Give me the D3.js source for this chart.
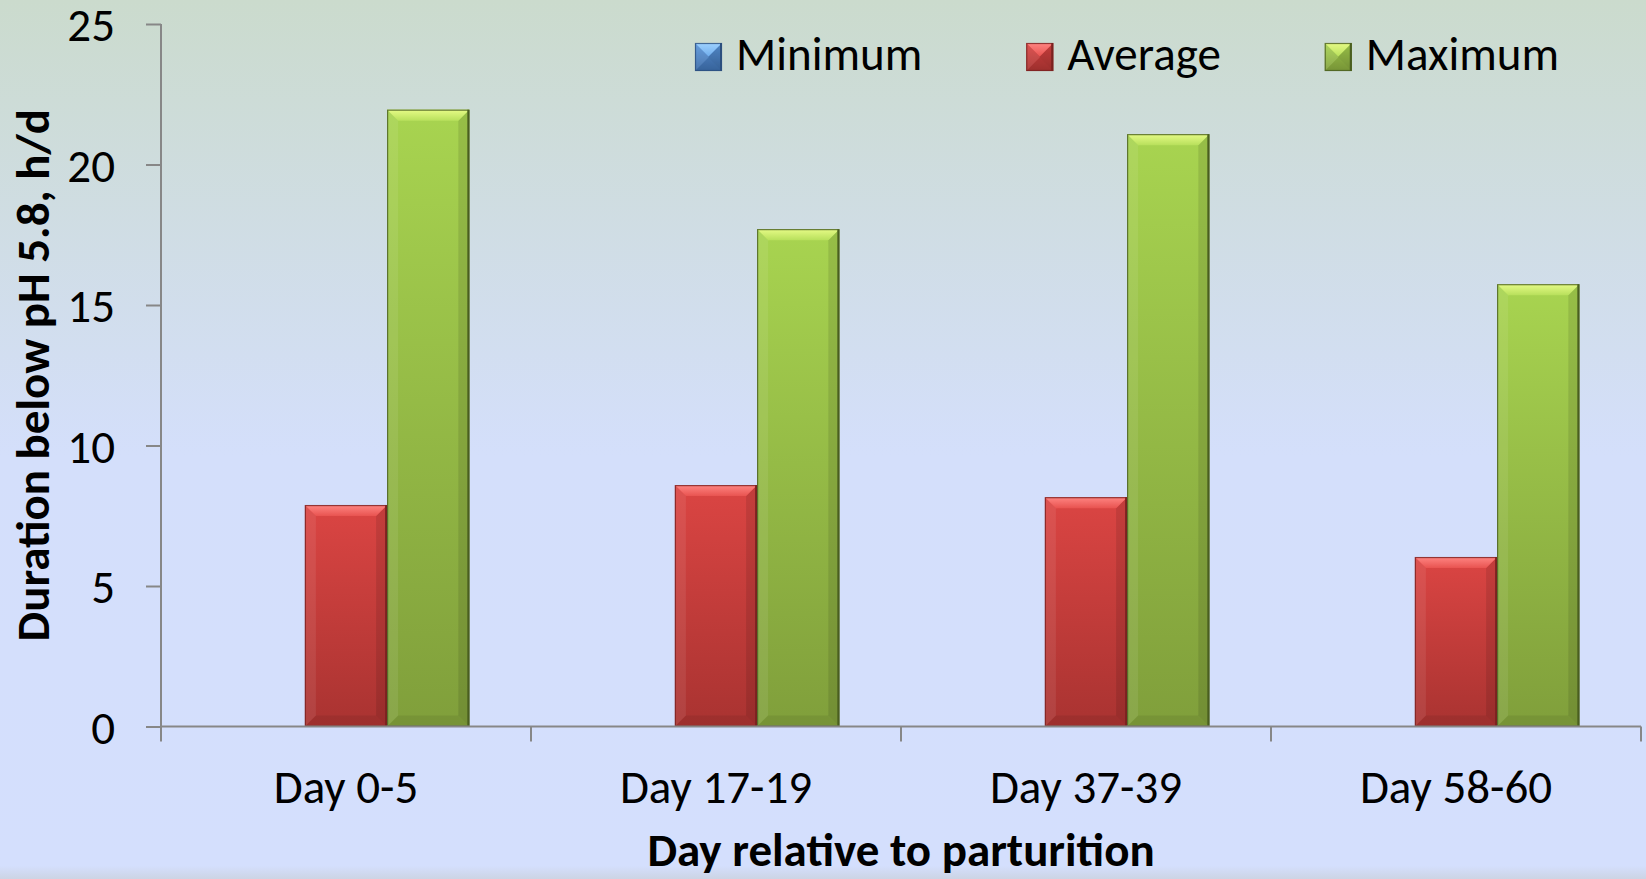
<!DOCTYPE html>
<html>
<head>
<meta charset="utf-8">
<script src="https://cdn.jsdelivr.net/npm/d3@7"></script>
<style>
  html, body { margin: 0; padding: 0; }
  body { width: 1646px; height: 879px; overflow: hidden; }
  svg { display: block; font-family: Carlito, Calibri, Lato, sans-serif; }
</style>
</head>
<body>
<svg id="chart" width="1646" height="879"></svg>
<script>
// Data
const categories = ["Day 0-5", "Day 17-19", "Day 37-39", "Day 58-60"],
  seriesNames = ["Minimum", "Average", "Maximum"],
  minimum = [0, 0, 0, 0],
  average = [7.88, 8.59, 8.16, 6.03],
  maximum = [21.95, 17.7, 21.08, 15.74],
  yTicks = [0, 5, 10, 15, 20, 25],
  yTitle = "Duration below pH 5.8, h/d",
  xTitle = "Day relative to parturition";

const seriesValues = [minimum, average, maximum];

// colours per series: [top, bottom, bevel top, bevel inner, edge]
const palette = {
  Minimum: ["#5b97dc", "#3b6aa6", "#9fd2ff", "#70adec", "#2c4f7e"],
  Average: ["#db4543", "#a93331", "#ff8582", "#e85350", "#7a2220"],
  Maximum: ["#a8d450", "#809f3b", "#e6fb86", "#b8e05c", "#4a5e20"]
};

const W = 1646, H = 879,
  plotL = 161, plotR = 1641, plotT = 24, plotB = 726.5,
  svg = d3.select("#chart"),
  defs = svg.append("defs");

// background
const bg = defs.append("linearGradient").attr("id", "bg")
  .attr("x1", 0).attr("y1", 0).attr("x2", 0).attr("y2", 1);
[[0, "#cbdbcd"], [0.52, "#d4dffb"], [0.985, "#d4dffd"], [1, "#ccd4e4"]]
  .forEach(s => bg.append("stop").attr("offset", s[0]).attr("stop-color", s[1]));
svg.append("rect").attr("width", W).attr("height", H).attr("fill", "url(#bg)");

seriesNames.forEach(name => {
  const g = defs.append("linearGradient").attr("id", "g-" + name)
    .attr("x1", 0).attr("y1", 0).attr("x2", 0).attr("y2", 1);
  g.append("stop").attr("offset", 0).attr("stop-color", palette[name][0]);
  g.append("stop").attr("offset", 1).attr("stop-color", palette[name][1]);
  const b = defs.append("linearGradient").attr("id", "b-" + name)
    .attr("x1", 0).attr("y1", 0).attr("x2", 0).attr("y2", 1);
  b.append("stop").attr("offset", 0).attr("stop-color", palette[name][2]);
  b.append("stop").attr("offset", 1).attr("stop-color", palette[name][3]);
});

// Scales
const x0 = d3.scaleBand().domain(categories).range([plotL, plotR]),
  x1 = d3.scaleBand().domain(seriesNames).range([0, x0.bandwidth()])
    .paddingInner(0).paddingOuter(0.75),
  y = d3.scaleLinear().domain([0, 25]).range([plotB, plotT]);

// bevelled column, Excel style
function bevelBar(sel, name, x, yTop, w, h, bv) {
  if (h <= 0) return;
  const b = Math.min(bv, w / 2, h / 2),
    g = sel.append("g");
  g.append("rect").attr("x", x).attr("y", yTop).attr("width", w).attr("height", h)
    .attr("fill", `url(#g-${name})`);
  // left side, lighter
  g.append("polygon").attr("points",
    [[x, yTop], [x + b, yTop + b], [x + b, yTop + h - b], [x, yTop + h]].join(" "))
    .attr("fill", "#fff").attr("opacity", 0.08);
  // right side, darker
  g.append("polygon").attr("points",
    [[x + w, yTop], [x + w - b, yTop + b], [x + w - b, yTop + h - b], [x + w, yTop + h]].join(" "))
    .attr("fill", "#000").attr("opacity", 0.1);
  // bottom, darker
  g.append("polygon").attr("points",
    [[x, yTop + h], [x + b, yTop + h - b], [x + w - b, yTop + h - b], [x + w, yTop + h]].join(" "))
    .attr("fill", "#000").attr("opacity", 0.07);
  // top bevel
  g.append("polygon").attr("points",
    [[x, yTop], [x + w, yTop], [x + w - b, yTop + b], [x + b, yTop + b]].join(" "))
    .attr("fill", `url(#b-${name})`);
  g.append("rect").attr("x", x + 0.5).attr("y", yTop + 0.5).attr("width", w - 1).attr("height", h - 1)
    .attr("fill", "none").attr("stroke", palette[name][4]).attr("stroke-width", 1.2)
    .attr("stroke-opacity", 0.8);
  g.append("line").attr("x1", x + w - 1).attr("x2", x + w - 1).attr("y1", yTop).attr("y2", yTop + h)
    .attr("stroke", palette[name][4]).attr("stroke-width", 2);
}

// Bars
const groups = svg.append("g").selectAll("g").data(categories).join("g")
  .attr("transform", d => `translate(${x0(d)},0)`);
groups.each(function (cat, ci) {
  const g = d3.select(this);
  seriesNames.forEach((name, si) => {
    const v = seriesValues[si][ci];
    bevelBar(g, name, x1(name), y(v), x1.bandwidth(), y(0) - y(v), 11);
  });
});

// Axes
const axisColor = "#878787";
const yAxis = svg.append("g").attr("transform", `translate(${plotL},0)`)
  .call(d3.axisLeft(y).tickValues(yTicks).tickSize(15).tickPadding(31).tickFormat(d3.format("d")));
yAxis.select(".domain").attr("d", `M0,${plotT}V${plotB}`);

const xAxis = svg.append("g").attr("transform", `translate(0,${plotB})`)
  .call(d3.axisBottom(x0).tickSize(0).tickPadding(47));
xAxis.select(".domain").attr("d", `M${plotL},0H${plotR}`);
// category separators
xAxis.selectAll(".sep").data(categories.map(c => x0(c)).concat([plotR])).join("line")
  .attr("class", "sep").attr("x1", d => d).attr("x2", d => d).attr("y1", 0).attr("y2", 15);

svg.selectAll(".domain, .tick line, .sep").attr("stroke", axisColor).attr("stroke-width", 2);
yAxis.attr("font-family", null).attr("font-size", null);
xAxis.attr("font-family", null).attr("font-size", null);
svg.selectAll(".tick text").attr("font-size", 47).attr("fill", "#000");
yAxis.selectAll(".tick text").attr("dy", "0.36em");
xAxis.selectAll(".tick text").attr("dy", 0).attr("y", 803 - plotB);

// Axis titles
svg.append("text").attr("x", (plotL + plotR) / 2).attr("y", 866)
  .attr("text-anchor", "middle").attr("font-weight", "bold").attr("font-size", 47)
  .text(xTitle);
svg.append("text").attr("transform", `translate(49,${(plotT + plotB) / 2}) rotate(-90)`)
  .attr("text-anchor", "middle").attr("font-weight", "bold").attr("font-size", 47)
  .text(yTitle);

// Legend
const legend = svg.append("g");
let lx = 695;
seriesNames.forEach(name => {
  bevelBar(legend, name, lx, 43, 27, 28, 14);
  const t = legend.append("text").attr("x", lx + 41).attr("y", 70)
    .attr("font-size", 47).text(name);
  lx += 41 + t.node().getComputedTextLength() + 104;
});
</script>
</body>
</html>
